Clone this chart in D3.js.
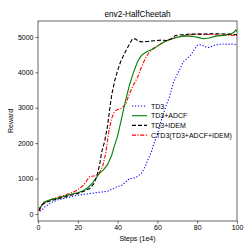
<!DOCTYPE html>
<html><head><meta charset="utf-8">
<script src="https://cdn.jsdelivr.net/npm/d3@7"></script>
<style>body{margin:0;background:#fff}svg{display:block}text{font-family:"Liberation Sans",Arial,sans-serif}</style>
</head><body><svg id="c" width="249" height="249"></svg>
<script>
const title = "env2-HalfCheetah";
const xLabel = "Steps (1e4)";
const yLabel = "Reward";
const xTicks = [0, 20, 40, 60, 80, 100];
const yTicks = [0, 1000, 2000, 3000, 4000, 5000];
const seriesNames = ["TD3", "TD3+ADCF", "TD3+IDEM", "CTD3(TD3+ADCF+IDEM)"];
const td3 = [[1,80],[2,100],[3,180],[5,260],[7,330],[10,400],[13,440],[16,480],[20,530],[24,560],[28,590],[32,620],[35,640],[38,720],[40,780],[42,800],[44,900],[46,1000],[48,1010],[50,1060],[52,1150],[54,1350],[55,1500],[57,1750],[58,1950],[60,2250],[62,2650],[64,3000],[66,3300],[68,3700],[70,3950],[71,4050],[73,4300],[75,4400],[77,4500],[78,4600],[80,4760],[82,4780],[84,4720],[86,4700],[88,4750],[90,4780],[93,4800],[96,4790],[98,4800],[100,4780]];
const adcf = [[1,150],[2,260],[3,330],[5,380],[7,410],[10,450],[13,500],[16,550],[20,600],[23,660],[25,740],[27,850],[29,1000],[31,1150],[33,1250],[35,1400],[37,1650],[38,1850],[40,2200],[42,2700],[44,3200],[46,3650],[48,4000],[50,4300],[52,4480],[54,4560],[56,4620],[58,4660],[60,4740],[63,4850],[66,4920],[70,4990],[74,5030],[78,5010],[81,4980],[83,4950],[86,4970],[90,5030],[94,5050],[97,5080],[98.5,5130],[99.3,5190],[100,5150]];
const idem = [[0.5,100],[1,180],[2,260],[4,330],[7,380],[10,430],[13,470],[16,520],[20,580],[23,640],[26,720],[28,850],[29.5,1050],[31,1400],[32,1750],[33.5,2050],[35,2500],[36,2950],[37,3350],[38.5,3750],[40,4050],[41.5,4300],[43,4480],[44.5,4650],[46,4800],[47.5,4950],[49,4940],[50.5,4880],[52,4860],[55,4870],[58,4890],[62,4910],[65,4900],[67,4950],[69,5040],[72,5060],[76,5080],[80,5080],[84,5080],[88,5090],[92,5090],[96,5080],[100,5060]];
const ctd3 = [[0.5,80],[1,120],[2,250],[4,340],[6,400],[10,470],[14,540],[18,620],[21,720],[23,820],[25,980],[26,1060],[28,1070],[29.5,1090],[31,1180],[32.5,1350],[34,1700],[35.5,2300],[37,2700],[38.5,2900],[40,2950],[42,2980],[44,3100],[46,3400],[48,3650],[50,3850],[52,4150],[54,4400],[56,4580],[58,4680],[60,4750],[63,4850],[66,4930],[70,5000],[74,5040],[78,5070],[82,5080],[86,5070],[90,5060],[95,5050],[100,5040]];
const seriesData = [td3, adcf, idem, ctd3];
const colors = ["#0000ff", "#008000", "#000000", "#ff0000"];
const dashes = ["1.2,1.8", null, "4,2", "4,1.5,1.2,1.5"];

const svg = d3.select("#c");
const m = {l: 38, r: 12, t: 21, b: 28};
const W = 249, H = 249;
const x = d3.scaleLinear().domain([0, 100]).range([m.l, W - m.r]);
const y = d3.scaleLinear().domain([-200, 5450]).range([H - m.b, m.t]);

const gx = svg.append("g").attr("transform", `translate(0,${H - m.b})`)
  .call(d3.axisBottom(x).tickValues(xTicks).tickFormat(d3.format("d")).tickSize(2.5).tickPadding(2));
const gy = svg.append("g").attr("transform", `translate(${m.l},0)`)
  .call(d3.axisLeft(y).tickValues(yTicks).tickFormat(d3.format("d")).tickSize(2.5).tickPadding(2));
[gx, gy].forEach(g => {
  g.select(".domain").remove();
  g.selectAll("text").attr("font-size", 7).attr("fill", "#000");
  g.selectAll("line").attr("stroke", "#000").attr("stroke-width", 0.6);
});

svg.append("clipPath").attr("id", "cp").append("rect")
  .attr("x", m.l).attr("y", m.t).attr("width", W - m.l - m.r).attr("height", H - m.t - m.b);

const line = d3.line().x(d => x(d[0])).y(d => y(d[1]));
const order = [0, 3, 1, 2];
order.forEach(i => {
  svg.append("path").datum(seriesData[i]).attr("d", line)
    .attr("fill", "none").attr("stroke", colors[i]).attr("stroke-width", 1.1)
    .attr("stroke-dasharray", dashes[i]).attr("clip-path", "url(#cp)");
});

svg.append("rect").attr("x", m.l).attr("y", m.t).attr("width", W - m.l - m.r).attr("height", H - m.t - m.b)
  .attr("fill", "none").attr("stroke", "#000").attr("stroke-width", 0.6);

svg.append("text").attr("x", (m.l + W - m.r) / 2).attr("y", 17).attr("text-anchor", "middle")
  .attr("font-size", 8.2).text(title);
svg.append("text").attr("x", (m.l + W - m.r) / 2).attr("y", 241).attr("text-anchor", "middle")
  .attr("font-size", 7).text(xLabel);
svg.append("text").attr("transform", `translate(13,${(m.t + H - m.b) / 2}) rotate(-90)`)
  .attr("text-anchor", "middle").attr("font-size", 7).text(yLabel);

const lg = svg.append("g");
seriesNames.forEach((n, i) => {
  const yy = 106 + i * 9.7;
  lg.append("line").attr("x1", 132).attr("x2", 147).attr("y1", yy).attr("y2", yy)
    .attr("stroke", colors[i]).attr("stroke-width", 1.1).attr("stroke-dasharray", dashes[i]);
  lg.append("text").attr("x", 151).attr("y", yy + 2.5).attr("font-size", 7).text(n);
});
</script></body></html>
